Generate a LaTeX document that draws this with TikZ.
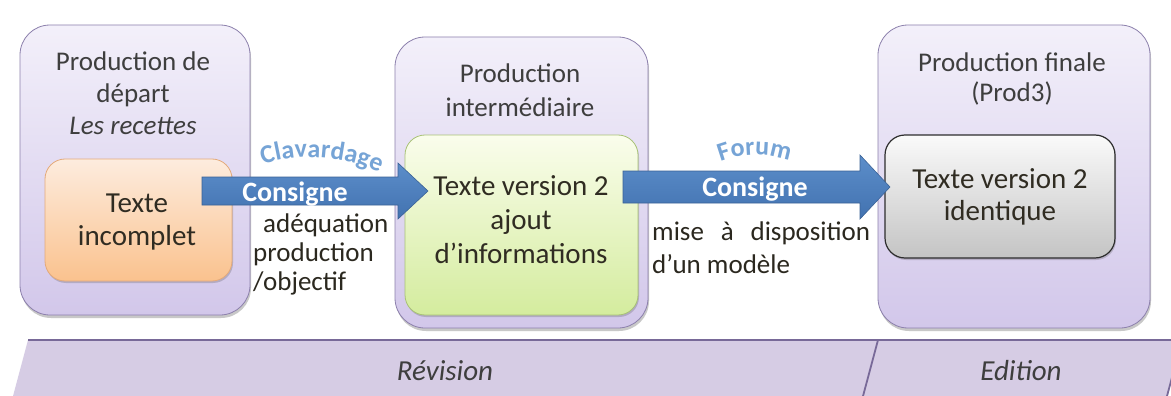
\documentclass[tikz,border=0pt]{standalone}
\usepackage{fontspec}
\setmainfont{Carlito}
\usetikzlibrary{shadows,decorations.text}
\definecolor{lavtop}{RGB}{243,240,250}
\definecolor{lavbot}{RGB}{210,199,234}
\definecolor{lavborder}{RGB}{140,128,172}
\definecolor{ortop}{RGB}{253,236,222}
\definecolor{orbot}{RGB}{250,194,142}
\definecolor{orborder}{RGB}{228,170,122}
\definecolor{grtop}{RGB}{250,253,236}
\definecolor{grbot}{RGB}{212,236,158}
\definecolor{grborder}{RGB}{168,194,118}
\definecolor{gytop}{RGB}{250,250,250}
\definecolor{gybot}{RGB}{196,196,196}
\definecolor{gyborder}{RGB}{45,45,45}
\definecolor{bandfill}{RGB}{214,204,228}
\definecolor{bandborder}{RGB}{120,105,152}
\definecolor{arrtop}{RGB}{92,142,202}
\definecolor{arrbot}{RGB}{66,114,176}
\definecolor{arrborder}{RGB}{58,98,150}
\definecolor{titlegray}{RGB}{62,62,62}
\definecolor{innertext}{RGB}{48,44,34}
\definecolor{clav}{RGB}{118,164,214}
\newcommand{\mytbc}[1]{\begin{tabular}[t]{@{}c@{}}#1\end{tabular}}
\newcommand{\mytbl}[1]{\begin{tabular}[t]{@{}l@{}}#1\end{tabular}}
\tikzset{
  obox/.style={draw=lavborder, line width=0.8pt, rounded corners=30pt,
    top color=lavtop, bottom color=lavbot, inner sep=0pt,
    drop shadow={shadow xshift=1pt, shadow yshift=-3pt, opacity=0.3, fill=black!70}},
  ibox/.style={line width=0.8pt, rounded corners=20pt, inner sep=0pt,
    drop shadow={shadow xshift=1pt, shadow yshift=-2pt, opacity=0.25, fill=black!70}},
  htext/.style={inner sep=0pt, anchor=base, text=titlegray, font=\fontsize{27}{32}\selectfont},
  itext/.style={inner sep=0pt, anchor=base, text=innertext, font=\fontsize{29}{33}\selectfont},
  stext/.style={inner sep=0pt, anchor=base west, text=innertext!90!black, font=\fontsize{27}{29}\selectfont},
  ctext/.style={inner sep=0pt, anchor=base, text=white, font=\fontsize{28}{28}\selectfont\bfseries},
  blockarrow/.style={draw=arrborder, line width=0.6pt, top color=arrtop, bottom color=arrbot},
  bandtext/.style={inner sep=0pt, anchor=base, text=titlegray, font=\fontsize{29}{29}\selectfont\itshape}
}
\begin{document}
\begin{tikzpicture}[x=1pt,y=-1pt]
\useasboundingbox[fill=white] (0,0) rectangle (1171,396);
% outer boxes
\node[obox, minimum width=230pt, minimum height=290pt] (b1) at (135,170) {};
\node[obox, minimum width=253pt, minimum height=291pt] (b2) at (521.5,182.5) {};
\node[obox, minimum width=272pt, minimum height=303pt] (b3) at (1014,176.5) {};
% inner boxes
\node[ibox, draw=orborder, top color=ortop, bottom color=orbot, minimum width=187pt, minimum height=122pt] (i1) at (138.5,220) {};
\node[ibox, draw=grborder, top color=grtop, bottom color=grbot, minimum width=233pt, minimum height=180pt] (i2) at (521.5,225) {};
\node[ibox, draw=gyborder, line width=1.2pt, top color=gytop, bottom color=gybot, minimum width=230pt, minimum height=123pt] (i3) at (1000,196.5) {};
% headings
\node[htext] (h1) at (133,71) {\mytbc{Production de\\départ\\\textit{Les recettes}}};
\node[htext, font=\fontsize{27}{34}\selectfont] (h2) at (520,83) {\mytbc{Production\\intermédiaire}};
\node[htext, font=\fontsize{27}{30}\selectfont] (h3) at (1012,72) {\mytbc{Production finale\\(Prod3)}};
% inner texts
\node[itext] (t1) at (137,212) {\mytbc{Texte\\incomplet}};
\node[itext, font=\fontsize{29}{34}\selectfont] (t2) at (521,195) {\mytbc{Texte version 2\\ajout\\d’informations}};
\node[itext, font=\fontsize{29}{32}\selectfont] (t3) at (1000,188) {\mytbc{Texte version 2\\identique}};
% side texts
\node[stext] (s1) at (253,232) {\mytbl{\hspace{10pt}adéquation\\production\\/objectif}};
\node[stext, font=\fontsize{27}{33}\selectfont] (s2) at (652,240) {\mytbl{\makebox[218pt][s]{mise à disposition}\\d’un modèle}};
% arrows
\draw[blockarrow] (202,177) -- (398,177) -- (398,163) -- (428,191) -- (398,219) -- (398,205) -- (202,205) -- cycle;
\draw[blockarrow] (623,171) -- (860,171) -- (860,155) -- (890,187) -- (860,219) -- (860,203) -- (623,203) -- cycle;
\node[ctext] (c1) at (295,201) {Consigne};
\node[ctext] (c2) at (755,196) {Consigne};
% arched labels
\path[decorate, decoration={text along path, text align=center, text color=clav,
  text={|\fontsize{26}{26}\selectfont\bfseries|Clavardage}}]
  (250,170) .. controls (290,151) and (345,153) .. (392,179);
\path[decorate, decoration={text along path, text align=center, text color=clav,
  text={|\fontsize{26}{26}\selectfont\bfseries|Forum}}]
  (708,168) .. controls (735,151) and (775,151) .. (802,167);
% band
\draw[fill=bandfill, draw=bandborder, line width=1.8pt, line join=round]
  (28,340) -- (1182,340) -- (1166.5,398) -- (12.5,398);
\draw[draw=bandborder, line width=1.8pt] (878,340) -- (862.5,398);
\node[bandtext] (r1) at (445,380) {Révision};
\node[bandtext] (r2) at (1021,380) {Edition};
\end{tikzpicture}
\end{document}
